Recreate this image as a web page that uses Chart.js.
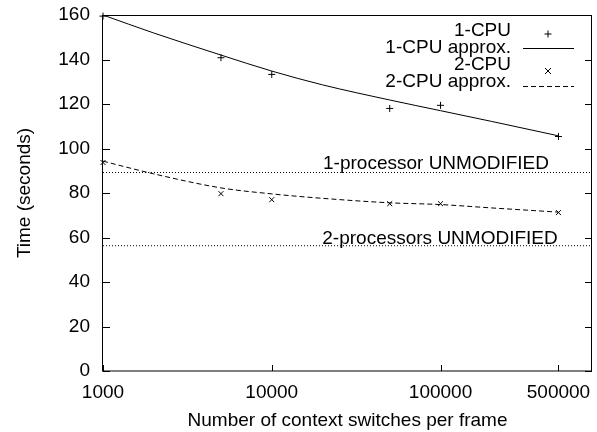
<!DOCTYPE html>
<html>
<head>
<meta charset="utf-8">
<script src="https://cdn.jsdelivr.net/npm/chart.js@4.4.0/dist/chart.umd.min.js"></script>
<style>
  html, body { margin: 0; padding: 0; background: #fff; }
  #chart { display: block; }
</style>
</head>
<body>
<canvas id="chart" width="597" height="432"></canvas>
<script>
// valores
const switches = [1000, 5000, 10000, 50000, 100000, 500000];
const cpu1Times = [159.5, 140.8, 133.3, 118.0, 119.4, 105.4];
const cpu2Times = [93.7, 79.7, 77.0, 75.2, 75.2, 71.2];

// curvas aproximadas (amostradas da figura)
const approxSwitches = [1000, 2000, 5000, 10000, 20000, 50000, 100000, 200000, 500000];
const cpu1Approx = [160, 151.9, 142.0, 134.8, 128.6, 121.8, 117.0, 112.2, 105.7];
const cpu2Approx = [94.3, 88.6, 82.3, 79.6, 77.6, 75.6, 74.8, 73.3, 71.4];

// linhas de referência
const unmodified1 = 89.2;
const unmodified2 = 56.3;

const xRange = [1000, 790000];
const xTicks = [1000, 10000, 100000, 500000];
const yTicks = [0, 20, 40, 60, 80, 100, 120, 140, 160];

const FONT = '"Liberation Sans", Arial, sans-serif';

const toPoints = (xs, ys) => xs.map((x, i) => ({ x: x, y: ys[i] }));
const flatLine = (y) => xRange.map(x => ({ x: x, y: y }));

// moldura, ticks internos, legenda e rótulos no estilo gnuplot
const gnuplotFrame = {
    id: 'gnuplotFrame',
    afterDraw(chart) {
        const { ctx, chartArea: a, scales: { x, y } } = chart;
        ctx.save();
        ctx.strokeStyle = '#000';
        ctx.lineWidth = 1;
        ctx.setLineDash([]);
        ctx.strokeRect(a.left - 0.5, a.top + 0.5, a.right - a.left, a.bottom - a.top - 0.5);

        ctx.beginPath();
        yTicks.forEach(v => {
            const py = Math.round(y.getPixelForValue(v)) + 0.5;
            ctx.moveTo(a.left, py); ctx.lineTo(a.left + 7, py);
            ctx.moveTo(a.right, py); ctx.lineTo(a.right - 7, py);
        });
        xTicks.forEach(v => {
            const px = Math.round(x.getPixelForValue(v)) + 0.5;
            ctx.moveTo(px, a.bottom); ctx.lineTo(px, a.bottom - 6);
        });
        ctx.stroke();

        // legenda
        ctx.font = '19px ' + FONT;
        ctx.fillStyle = '#000';
        ctx.textAlign = 'right';
        ctx.textBaseline = 'middle';
        const legendRows = ['1-CPU', '1-CPU approx.', '2-CPU', '2-CPU approx.'];
        const rowY = [30.5, 47.5, 64.5, 82];
        legendRows.forEach((t, i) => ctx.fillText(t, 511, rowY[i]));

        ctx.beginPath();
        ctx.moveTo(544.5, 34); ctx.lineTo(551.5, 34);
        ctx.moveTo(548, 30.5); ctx.lineTo(548, 37.5);
        ctx.moveTo(545, 68); ctx.lineTo(551, 74);
        ctx.moveTo(551, 68); ctx.lineTo(545, 74);
        ctx.moveTo(523, 48.5); ctx.lineTo(574, 48.5);
        ctx.stroke();
        ctx.setLineDash([5, 3]);
        ctx.beginPath();
        ctx.moveTo(523, 86.5); ctx.lineTo(574, 86.5);
        ctx.stroke();

        // rótulos das linhas de referência
        ctx.textAlign = 'center';
        ctx.textBaseline = 'alphabetic';
        ctx.fillText('1-processor UNMODIFIED', 436, y.getPixelForValue(unmodified1) - 4);
        ctx.fillText('2-processors UNMODIFIED', 440, y.getPixelForValue(unmodified2) - 2);
        ctx.restore();
    }
};

const ctx = document.getElementById('chart').getContext('2d');
new Chart(ctx, {
    type: 'scatter',
    data: {
        datasets: [
            {
                label: '1-CPU',
                data: toPoints(switches, cpu1Times),
                pointStyle: 'cross', pointRadius: 3.5, pointBorderWidth: 1,
                borderColor: '#000', showLine: false, clip: false
            },
            {
                label: '1-CPU approx.',
                data: toPoints(approxSwitches, cpu1Approx),
                showLine: true, pointRadius: 0, borderColor: '#000', borderWidth: 1,
                cubicInterpolationMode: 'monotone'
            },
            {
                label: '2-CPU',
                data: toPoints(switches, cpu2Times),
                pointStyle: 'crossRot', pointRadius: 3.5, pointBorderWidth: 1,
                borderColor: '#000', showLine: false, clip: false
            },
            {
                label: '2-CPU approx.',
                data: toPoints(approxSwitches, cpu2Approx),
                showLine: true, pointRadius: 0, borderColor: '#000', borderWidth: 1,
                borderDash: [5, 3], cubicInterpolationMode: 'monotone'
            },
            {
                label: '1-processor UNMODIFIED',
                data: flatLine(unmodified1),
                showLine: true, pointRadius: 0, borderColor: '#000', borderWidth: 1,
                borderDash: [1, 2]
            },
            {
                label: '2-processors UNMODIFIED',
                data: flatLine(unmodified2),
                showLine: true, pointRadius: 0, borderColor: '#000', borderWidth: 1,
                borderDash: [1, 2]
            }
        ]
    },
    options: {
        responsive: false,
        animation: false,
        devicePixelRatio: 1,
        layout: { padding: { top: 15, right: 1, left: 0, bottom: 0 } },
        plugins: { legend: { display: false }, tooltip: { enabled: false } },
        scales: {
            x: {
                type: 'logarithmic',
                min: xRange[0],
                max: xRange[1],
                afterBuildTicks: (scale) => { scale.ticks = xTicks.map(v => ({ value: v })); },
                afterFit: (scale) => {
                    scale.height = 61;
                    scale.paddingLeft = 0;
                    scale.paddingRight = 0;
                },
                grid: { display: false, drawTicks: false },
                border: { display: false },
                ticks: {
                    autoSkip: false, maxRotation: 0, padding: 10,
                    color: '#000', font: { family: FONT, size: 19 },
                    callback: (v) => String(v)
                },
                title: {
                    display: true, text: 'Number of context switches per frame',
                    color: '#000', font: { family: FONT, size: 19 },
                    padding: { top: 0, bottom: 0 }
                }
            },
            y: {
                min: 0,
                max: 160,
                afterFit: (scale) => {
                    scale.width = 103;
                    scale.paddingTop = 0;
                    scale.paddingBottom = 0;
                },
                grid: { display: false, drawTicks: false },
                border: { display: false },
                ticks: {
                    stepSize: 20, padding: 13,
                    color: '#000', font: { family: FONT, size: 19 }
                },
                title: {
                    display: true, text: 'Time (seconds)',
                    color: '#000', font: { family: FONT, size: 19 },
                    padding: { top: 13, bottom: 0 }
                }
            }
        }
    },
    plugins: [gnuplotFrame]
});
</script>
</body>
</html>
